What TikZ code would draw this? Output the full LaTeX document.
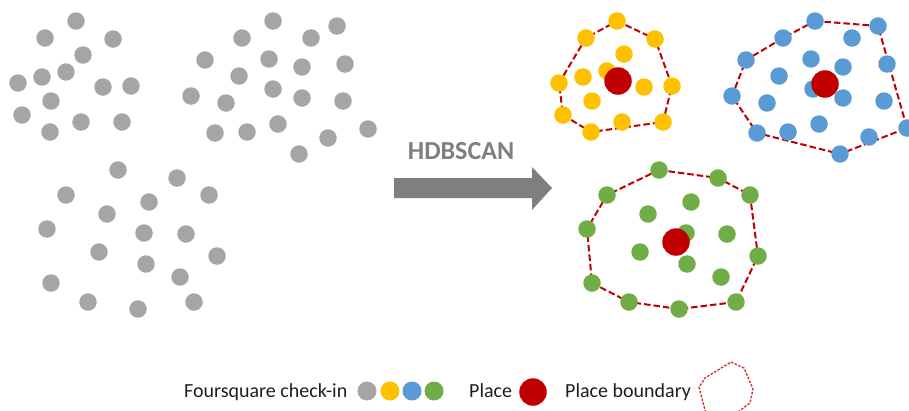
\documentclass[tikz,border=0pt]{standalone}
\usepackage{fontspec}
\setmainfont{Carlito}
\usetikzlibrary{backgrounds}
\definecolor{dotgray}{HTML}{A5A5A5}
\definecolor{dotyellow}{HTML}{FFC000}
\definecolor{dotblue}{HTML}{5B9BD5}
\definecolor{dotgreen}{HTML}{70AD47}
\definecolor{placered}{HTML}{C00000}
\definecolor{arrowgray}{HTML}{7F7F7F}
\definecolor{legendtext}{HTML}{1E1E1E}
\tikzset{
  dot/.style={circle, inner sep=0pt, minimum size=17.5pt, draw=none},
  gdot/.style={dot, fill=dotgray},
  ydot/.style={dot, fill=dotyellow},
  bdot/.style={dot, fill=dotblue},
  grdot/.style={dot, fill=dotgreen},
  place/.style={circle, inner sep=0pt, minimum size=27.5pt, draw=none, fill=placered},
  boundary/.style={draw=placered, line width=2pt, dash pattern=on 6.5pt off 3pt, line join=round},
  legendboundary/.style={draw=placered!80!white, line width=1.4pt, dash pattern=on 2.5pt off 1.5pt, line join=round},
  legendlabel/.style={anchor=base west, inner sep=0pt, text=legendtext, font=\fontsize{20}{24}\selectfont},
}
\begin{document}
\begin{tikzpicture}[x=1pt, y=-1pt]
\useasboundingbox (0,0) rectangle (909,410);
\clip (0,0) rectangle (909,410);

% raw check-ins, first group
\foreach \n/\x/\y in {1/76/21, 2/45/38, 3/113/39, 4/83/55, 5/66/72, 6/42/77, 7/18/83,
  8/103/87, 9/131/86, 10/51/101, 11/22/115, 12/81/122, 13/122/122, 14/50/132}
  \node[gdot] (ga\n) at (\x,\y) {};
% raw check-ins, second group
\foreach \n/\x/\y in {1/273/21, 2/337/26, 3/242/38, 4/311/38, 5/205/60, 6/269/59, 7/302/67,
  8/345/64, 9/239/76, 10/191/96, 11/226/103, 12/273/89, 13/302/98, 14/343/101,
  15/215/133, 16/247/132, 17/278/124, 18/328/138, 19/368/129, 20/299/154}
  \node[gdot] (gb\n) at (\x,\y) {};
% raw check-ins, third group
\foreach \n/\x/\y in {1/118/170, 2/177/178, 3/66/195, 4/209/195, 5/149/202, 6/107/214,
  7/47/229, 8/144/233, 9/186/234, 10/99/252, 11/217/256, 12/146/264, 13/180/277,
  14/51/283, 15/88/302, 16/138/309, 17/194/302}
  \node[gdot] (gc\n) at (\x,\y) {};

% clustering step
\node[anchor=base, inner sep=0pt, text=arrowgray, font=\fontsize{26}{30}\bfseries\selectfont]
  (algo) at (461,159) {HDBSCAN};
\fill[arrowgray] (394,178) -- (532,178) -- (532,167) -- (552,188) -- (532,210)
  -- (532,198) -- (394,198) -- cycle;

% yellow cluster
\foreach \n/\x/\y in {1/617/21, 2/586/38, 3/655/39, 4/624/54, 5/583/77, 6/607/71, 7/559/83,
  8/644/87, 9/672/86, 10/592/101, 11/563/115, 12/622/122, 13/663/122, 14/591/132}
  \node[ydot] (y\n) at (\x,\y) {};
\node[place] (py) at (618,81) {};

% blue cluster
\foreach \n/\x/\y in {1/815/21, 2/878/26, 3/783/38, 4/852/38, 5/746/60, 6/811/59, 7/843/67,
  8/887/64, 9/779/76, 10/732/96, 11/767/103, 12/813/89, 13/843/98, 14/884/101,
  15/757/133, 16/788/132, 17/819/124, 18/869/137, 19/907/128, 20/840/154}
  \node[bdot] (b\n) at (\x,\y) {};
\node[place] (pb) at (825,84) {};

% green cluster
\foreach \n/\x/\y in {1/659/170, 2/718/178, 3/607/195, 4/750/195, 5/691/202, 6/648/214,
  7/587/229, 8/686/233, 9/727/234, 10/640/252, 11/758/256, 12/687/264, 13/721/277,
  14/592/283, 15/629/302, 16/679/309, 17/736/302}
  \node[grdot] (gr\n) at (\x,\y) {};
\node[place] (pg) at (676,242) {};

% cluster boundaries, behind the dots
\begin{scope}[on background layer]
  \draw[boundary] (y1.center) -- (y3.center) -- (y9.center) -- (y13.center) -- (y14.center)
    -- (y11.center) -- (y7.center) -- (y2.center) -- cycle;
  \draw[boundary] (b1.center) -- (b2.center) -- (b19.center) -- (b20.center) -- (b15.center)
    -- (b10.center) -- (b5.center) -- (b3.center) -- cycle;
  \draw[boundary] (gr1.center) -- (gr2.center) -- (gr4.center) -- (gr11.center) -- (gr17.center)
    -- (gr16.center) -- (gr15.center) -- (gr14.center) -- (gr7.center) -- (gr3.center) -- cycle;
\end{scope}

% legend
\node[legendlabel] (lcheckin) at (184,397) {Foursquare check-in};
\node[dot, minimum size=19pt, fill=dotgray]   (lg) at (367,391) {};
\node[dot, minimum size=19pt, fill=dotyellow] (ly) at (390,391) {};
\node[dot, minimum size=19pt, fill=dotblue]   (lb) at (412,391) {};
\node[dot, minimum size=19pt, fill=dotgreen]  (lgr) at (434,391) {};
\node[legendlabel] (lplace) at (469,397) {Place};
\node[place] (lp) at (533,392) {};
\node[legendlabel] (lbound) at (565,397) {Place boundary};
\draw[legendboundary] (731,362) -- (744,368) -- (753,389) -- (750,403) -- (738,412)
  -- (706,414) -- (699,387) -- (705,378) -- cycle;
\end{tikzpicture}
\end{document}
